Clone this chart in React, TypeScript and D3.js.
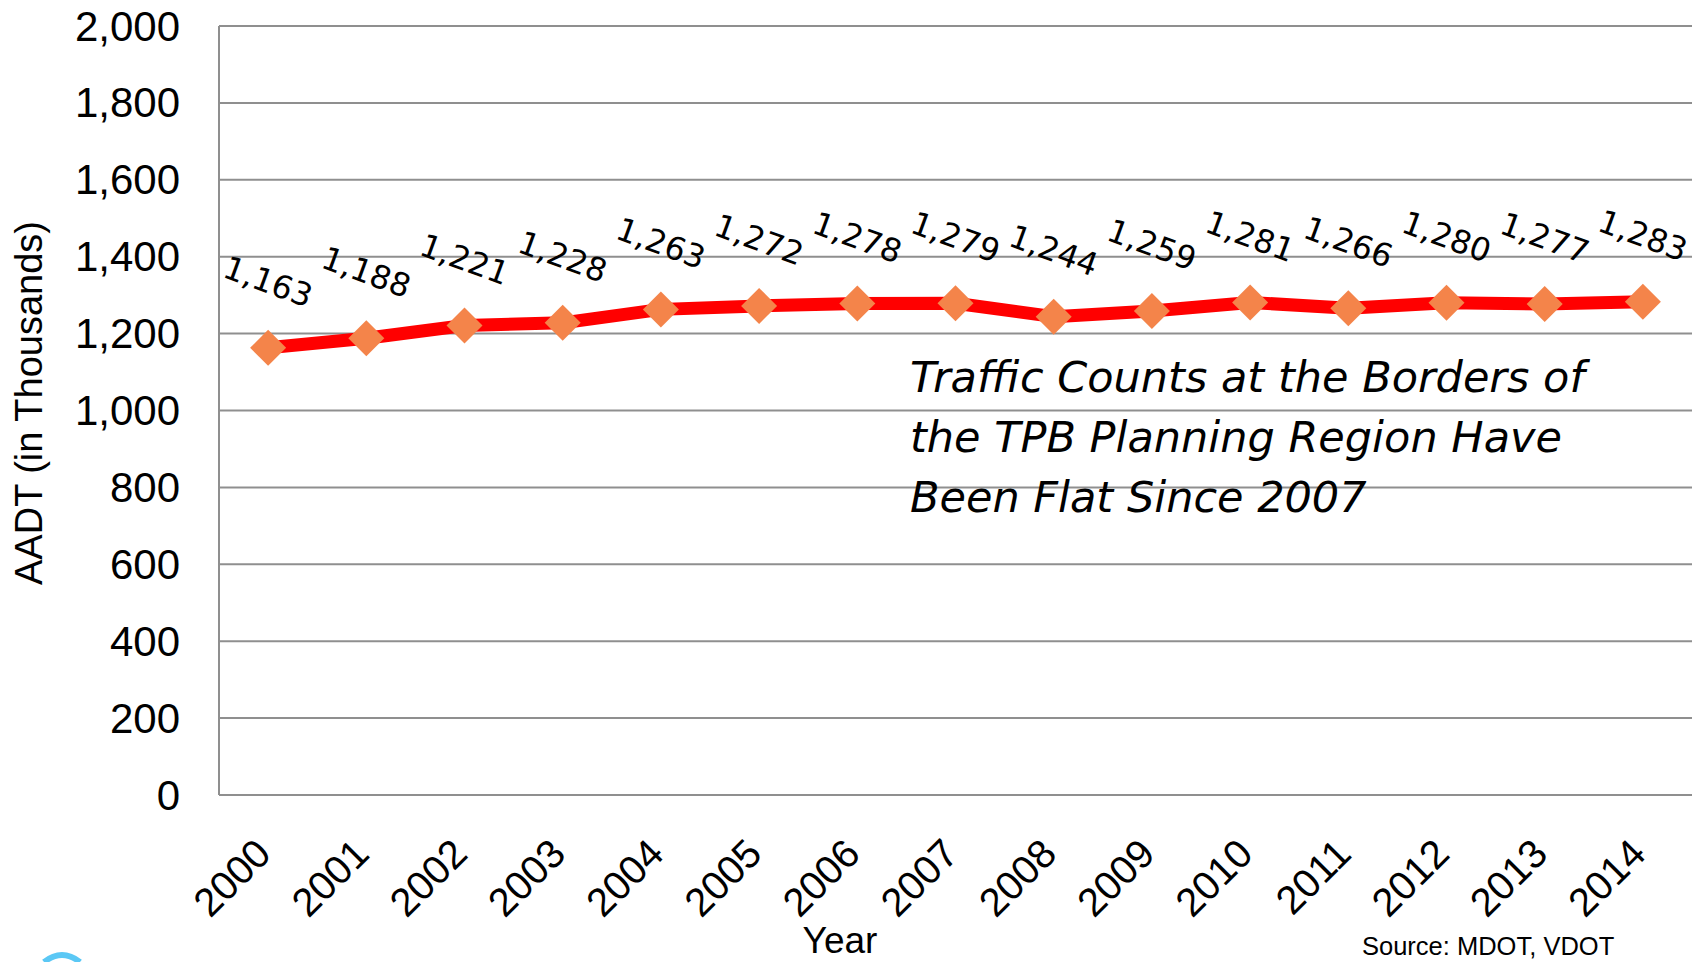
import React from "react";
import * as d3 from "d3";

const years = ["2000", "2001", "2002", "2003", "2004", "2005", "2006", "2007", "2008", "2009", "2010", "2011", "2012", "2013", "2014"];
const aadt = [1163, 1188, 1221, 1228, 1263, 1272, 1278, 1279, 1244, 1259, 1281, 1266, 1280, 1277, 1283];
const yTicks = [0, 200, 400, 600, 800, 1000, 1200, 1400, 1600, 1800, 2000];
const noteLines = [
  "Traffic Counts at the Borders of",
  "the TPB Planning Region Have",
  "Been Flat Since 2007",
];

const App = () => {
  const width = 1706;
  const height = 962;
  const margin = { top: 26, right: 14, bottom: 167, left: 219 };
  const font = "'Liberation Sans', Arial, sans-serif";
  const wide = "'DejaVu Sans', sans-serif";

  const x = d3
    .scaleBand()
    .domain(years)
    .range([margin.left, width - margin.right]);
  const y = d3
    .scaleLinear()
    .domain([0, 2000])
    .range([height - margin.bottom, margin.top]);

  const cx = (d) => x(d) + x.bandwidth() / 2;

  const line = d3
    .line()
    .x((d, i) => cx(years[i]))
    .y((d) => y(d));

  const fmt = d3.format(",");

  return (
    <svg
      width={width}
      height={height}
      style={{ position: "absolute", left: 0, top: 0, background: "#fff" }}
    >
      {/* gridlines */}
      <g>
        {yTicks.map((t) => (
          <line
            key={t}
            x1={margin.left}
            x2={width - margin.right}
            y1={y(t)}
            y2={y(t)}
            stroke="#8f8f8f"
            strokeWidth={2}
          />
        ))}
        <line
          x1={margin.left}
          x2={margin.left}
          y1={y(2000)}
          y2={y(0)}
          stroke="#8f8f8f"
          strokeWidth={2}
        />
      </g>

      {/* y tick labels */}
      <g fontFamily={font} fontSize={42} fill="#000" textAnchor="end">
        {yTicks.map((t) => (
          <text key={t} x={180} y={y(t)} dominantBaseline="central">
            {fmt(t)}
          </text>
        ))}
      </g>

      {/* x tick labels */}
      <g fontFamily={font} fontSize={40} fill="#000" textAnchor="end">
        {years.map((yr) => (
          <text
            key={yr}
            transform={`translate(${cx(yr) + 5},${856}) rotate(-45)`}
          >
            {yr}
          </text>
        ))}
      </g>

      {/* axis titles */}
      <text
        transform={`translate(42,403) rotate(-90)`}
        fontFamily={font}
        fontSize={38}
        textAnchor="middle"
      >
        AADT (in Thousands)
      </text>
      <text x={840} y={953} fontFamily={font} fontSize={37} textAnchor="middle">
        Year
      </text>
      <text x={1362} y={955} fontFamily={font} fontSize={25.5}>
        Source: MDOT, VDOT
      </text>

      {/* series */}
      <path d={line(aadt)} fill="none" stroke="#ff0000" strokeWidth={13} strokeLinejoin="round" />
      <g fill="#f4844a">
        {aadt.map((v, i) => {
          const px = cx(years[i]);
          const py = y(v);
          const r = 18;
          return (
            <path
              key={years[i]}
              d={`M${px},${py - r}L${px + r},${py}L${px},${py + r}L${px - r},${py}Z`}
            />
          );
        })}
      </g>

      {/* data labels */}
      <g fontFamily={wide} fontSize={32} fill="#000" textAnchor="middle">
        {aadt.map((v, i) => (
          <text
            key={years[i]}
            transform={`translate(${cx(years[i])},${y(v) - 66}) rotate(20)`}
            dominantBaseline="central"
          >
            {fmt(v)}
          </text>
        ))}
      </g>

      {/* annotation */}
      <g fontFamily={wide} fontSize={43} fontStyle="italic" fill="#000">
        {noteLines.map((s, i) => (
          <text key={i} x={910} y={392 + i * 60}>
            {s}
          </text>
        ))}
      </g>

      {/* cropped logo at the bottom edge */}
      <path
        d="M44,962 Q62,948 80,962"
        fill="none"
        stroke="#5bc8f5"
        strokeWidth={6}
      />
    </svg>
  );
};

export default App;
